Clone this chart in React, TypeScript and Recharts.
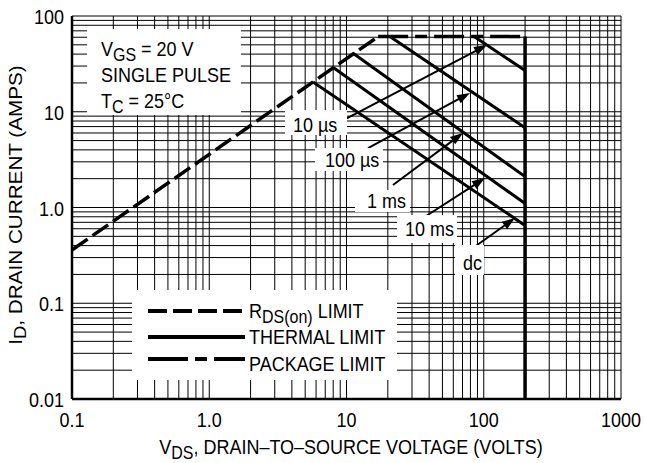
import { LineChart, Line, XAxis, YAxis, CartesianGrid, ReferenceLine } from "recharts";

// axis decades and their printed labels
const xDecades = [0.1, 1, 10, 100, 1000];
const xDecadeLabels = ["0.1", "1.0", "10", "100", "1000"];
const yDecades = [0.01, 0.1, 1, 10, 100];
const yDecadeLabels = ["0.01", "0.1", "1.0", "10", "100"];
const gridSteps = [1, 2, 3, 4, 5, 6, 7, 8, 9];

// limit curves: volts / amps
const rdsVolts = [0.1, 17];
const rdsAmps = [0.36, 61];
const packageVolts = [17, 200];
const packageAmps = [61, 61];
const breakdownVolts = [200, 200];
const breakdownAmps = [61, 0.01];

const pulse10usVolts = [85, 200];
const pulse10usAmps = [61, 27];
const pulse100usVolts = [20.7, 200];
const pulse100usAmps = [61, 6.8];
const pulse1msVolts = [11.1, 200];
const pulse1msAmps = [41, 2.1];
const pulse10msVolts = [8, 200];
const pulse10msAmps = [29, 1.1];
const dcVolts = [5.7, 200];
const dcAmps = [20.5, 0.65];

// annotation arrows (label -> curve)
const arrowLabels = ["10 µs", "100 µs", "1 ms", "10 ms", "dc"];
const arrowFromVolts = [8.97, 14.35, 21.8, 37.3, 83.5];
const arrowFromAmps = [7.82, 4.18, 1.72, 0.8, 0.378];
const arrowToVolts = [105.6, 79.4, 70.6, 102, 169];
const arrowToAmps = [49.8, 15.7, 6.0, 2.03, 0.777];

const FONT = '"Liberation Sans", Arial, Helvetica, sans-serif';
const SY = 1.15;

const pts = (v: number[], a: number[]) => v.map((x, k) => ({ v: x, a: a[k] }));
const withSteps = (decades: number[]) => {
  const out: number[] = [];
  decades.forEach((d, k) => {
    if (k === decades.length - 1) out.push(d);
    else gridSteps.forEach((s) => out.push(d * s));
  });
  return out;
};
const xTicks = withSteps(xDecades);
const yTicks = withSteps(yDecades);
const labelFor = (v: number, decades: number[], labels: string[]) => {
  const k = decades.findIndex((d) => Math.abs(v / d - 1) < 1e-6);
  return k < 0 ? null : labels[k];
};

const XTick = (p: any) => {
  const lab = labelFor(p.payload.value, xDecades, xDecadeLabels);
  if (!lab) return <g />;
  return (
    <text transform={`translate(${p.x},427) scale(1,${SY})`} textAnchor="middle" fontSize={18} fontFamily={FONT} fill="#000">
      {lab}
    </text>
  );
};

const YTick = (p: any) => {
  const lab = labelFor(p.payload.value, yDecades, yDecadeLabels);
  if (!lab) return <g />;
  return (
    <text transform={`translate(64,${p.y + 8}) scale(1,${SY})`} textAnchor="end" fontSize={18} fontFamily={FONT} fill="#000">
      {lab}
    </text>
  );
};

const Arrow = (p: any) => {
  const { x1, y1, x2, y2 } = p;
  const dx = x2 - x1;
  const dy = y2 - y1;
  const len = Math.hypot(dx, dy) || 1;
  const ux = dx / len;
  const uy = dy / len;
  const hl = 13;
  const hw = 4.5;
  const bx = x2 - ux * hl;
  const by = y2 - uy * hl;
  return (
    <g>
      <line x1={x1} y1={y1} x2={bx + ux} y2={by + uy} stroke="#000" strokeWidth={2} />
      <polygon points={`${x2},${y2} ${bx - uy * hw},${by + ux * hw} ${bx + uy * hw},${by - ux * hw}`} fill="#000" />
    </g>
  );
};

// text with optional subscript: main, sub, rest
const Txt = ({ x, y, anchor = "start", main, sub, rest }: any) => (
  <text transform={`translate(${x},${y}) scale(1,${SY})`} textAnchor={anchor} fontSize={18} fontFamily={FONT} fill="#000">
    {main}
    {sub && (
      <tspan dy={4} fontSize={16}>
        {sub}
      </tspan>
    )}
    {rest && <tspan dy={sub ? -4 : 0}>{rest}</tspan>}
  </text>
);

const whiteBoxes = [
  [87, 29, 154, 86],
  [285, 110, 62, 25],
  [315, 148, 68, 23],
  [355, 190, 55, 22],
  [397, 215, 60, 28],
  [455, 245, 29, 30],
  [132, 290, 265, 90],
];
const arrowLabelPos = [
  [293, 132],
  [325, 167],
  [367, 208],
  [405, 236],
  [463, 270],
];

function Overlay() {
  return (
    <svg width={645} height={463} style={{ position: "absolute", left: 0, top: 0, pointerEvents: "none" }}>
      {whiteBoxes.map(([x, y, w, h], k) => (
        <rect key={k} x={x} y={y} width={w} height={h} fill="#fff" />
      ))}
      <Txt x={101} y={56} main="V" sub="GS" rest=" = 20 V" />
      <Txt x={101} y={82} main="SINGLE PULSE" />
      <Txt x={101} y={108} main="T" sub="C" rest=" = 25°C" />

      {arrowLabels.map((s, k) => (
        <Txt key={k} x={arrowLabelPos[k][0]} y={arrowLabelPos[k][1]} main={s} />
      ))}

      <line x1={148} y1={311} x2={245} y2={311} stroke="#000" strokeWidth={4} strokeDasharray="19 6" />
      <line x1={148} y1={337} x2={245} y2={337} stroke="#000" strokeWidth={4} />
      <line x1={148} y1={359} x2={245} y2={359} stroke="#000" strokeWidth={4} strokeDasharray="40 7 12 7" />
      <Txt x={249} y={318} main="R" sub="DS(on)" rest=" LIMIT" />
      <Txt x={249} y={344} main="THERMAL LIMIT" />
      <Txt x={249} y={371} main="PACKAGE LIMIT" />

      <Txt x={351} y={454} anchor="middle" main="V" sub="DS" rest=", DRAIN–TO–SOURCE VOLTAGE (VOLTS)" />
      <text transform="translate(22,205) rotate(-90) scale(1.15,1)" textAnchor="middle" fontSize={18} fontFamily={FONT} fill="#000">
        I
        <tspan dy={4} fontSize={16}>
          D
        </tspan>
        <tspan dy={-4}>, DRAIN CURRENT (AMPS)</tspan>
      </text>
    </svg>
  );
}

const thermal = [
  [pulse10usVolts, pulse10usAmps],
  [pulse100usVolts, pulse100usAmps],
  [pulse1msVolts, pulse1msAmps],
  [pulse10msVolts, pulse10msAmps],
  [dcVolts, dcAmps],
];

export default function App() {
  return (
    <div style={{ position: "absolute", left: 0, top: 0, width: 645, height: 463, background: "#fff" }}>
      <LineChart width={645} height={463} margin={{ top: 16, right: 24, bottom: 24, left: 12 }} style={{ fontFamily: FONT }}>
        <CartesianGrid stroke="#000" strokeWidth={1} />
        <XAxis
          dataKey="v"
          type="number"
          scale="log"
          domain={[0.1, 1000]}
          allowDataOverflow
          ticks={xTicks}
          interval={0}
          height={40}
          tick={<XTick />}
          tickLine={false}
          axisLine={{ stroke: "#000", strokeWidth: 2.5 }}
        />
        <YAxis
          type="number"
          scale="log"
          domain={[0.01, 100]}
          allowDataOverflow
          ticks={yTicks}
          interval={0}
          width={60}
          tick={<YTick />}
          tickLine={false}
          axisLine={{ stroke: "#000", strokeWidth: 2.5 }}
        />
        <Line data={pts(rdsVolts, rdsAmps)} dataKey="a" type="linear" stroke="#000" strokeWidth={3.5} strokeDasharray="19 6" dot={false} isAnimationActive={false} />
        <Line data={pts(packageVolts, packageAmps)} dataKey="a" type="linear" stroke="#000" strokeWidth={3.5} strokeDasharray="30 7 12 7" dot={false} isAnimationActive={false} />
        <Line data={pts(breakdownVolts, breakdownAmps)} dataKey="a" type="linear" stroke="#000" strokeWidth={3.5} dot={false} isAnimationActive={false} />
        {thermal.map(([v, a], k) => (
          <Line key={k} data={pts(v, a)} dataKey="a" type="linear" stroke="#000" strokeWidth={3} dot={false} isAnimationActive={false} />
        ))}
        {arrowFromVolts.map((v, k) => (
          <ReferenceLine
            key={"ar" + k}
            segment={[
              { x: v, y: arrowFromAmps[k] },
              { x: arrowToVolts[k], y: arrowToAmps[k] },
            ]}
            shape={<Arrow />}
          />
        ))}
      </LineChart>
      <Overlay />
    </div>
  );
}
